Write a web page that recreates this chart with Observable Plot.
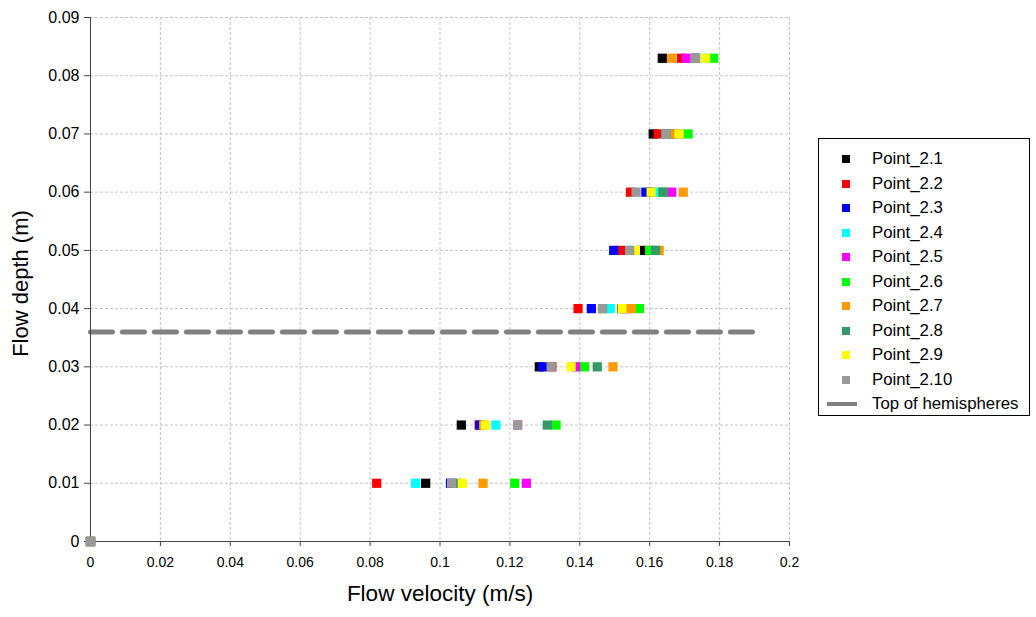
<!DOCTYPE html>
<html><head><meta charset="utf-8">
<script src="https://cdn.jsdelivr.net/npm/d3@7"></script>
<script src="https://cdn.jsdelivr.net/npm/@observablehq/plot@0.6"></script>
<style>
body{margin:0;background:#fff;font-family:"Liberation Sans",Arial,sans-serif;}
#wrap{position:relative;width:1036px;height:617px;overflow:hidden}
#legend{position:absolute;left:818px;top:138px;width:212px;height:278px;border:1px solid #000;box-sizing:border-box;background:#fff}
.row{position:absolute;left:0;height:24px;display:flex;align-items:center;font-size:16.8px;color:#000;white-space:nowrap}
.mk{position:absolute;top:8px;width:8px;height:8px}
.txt{position:absolute;left:53px;top:2px;line-height:20px}
</style></head><body><div id="wrap"></div>
<script>
// Flow depths (m) at which velocities were measured
const depths = [0, 0.01, 0.02, 0.03, 0.04, 0.05, 0.06, 0.07, 0.083];
const seriesNames = ["Point_2.1","Point_2.2","Point_2.3","Point_2.4","Point_2.5","Point_2.6","Point_2.7","Point_2.8","Point_2.9","Point_2.10"];
const seriesColors = ["#000000","#ff0000","#0000ff","#00ffff","#ff00ff","#00ff00","#ff9900","#339966","#ffff00","#999999"];
// Flow velocity (m/s) per series, one value per depth
const p21  = [0, 0.0959, 0.1061, 0.1284, 0.1520, 0.1576, 0.1604, 0.1610, 0.1636];
const p22  = [0, 0.0819, 0.1112, 0.1320, 0.1395, 0.1518, 0.1545, 0.1624, 0.1691];
const p23  = [0, 0.1030, 0.1114, 0.1294, 0.1433, 0.1497, 0.1589, 0.1664, 0.1731];
const p24  = [0, 0.0930, 0.1160, 0.1388, 0.1487, 0.1543, 0.1621, 0.1647, 0.1760];
const p25  = [0, 0.1247, 0.1222, 0.1390, 0.1535, 0.1600, 0.1663, 0.1684, 0.1704];
const p26  = [0, 0.1214, 0.1332, 0.1414, 0.1571, 0.1600, 0.1638, 0.1710, 0.1783];
const p27  = [0, 0.1123, 0.1125, 0.1495, 0.1547, 0.1627, 0.1696, 0.1670, 0.1663];
const p28  = [0, 0.1048, 0.1307, 0.1450, 0.1465, 0.1617, 0.1638, 0.1647, 0.1731];
const p29  = [0, 0.1064, 0.1130, 0.1375, 0.1521, 0.1559, 0.1604, 0.1684, 0.1760];
const p210 = [0, 0.1033, 0.1222, 0.1318, 0.1465, 0.1543, 0.1561, 0.1647, 0.1731];
const velocities = [p21, p22, p23, p24, p25, p26, p27, p28, p29, p210];
// Top of hemispheres reference line
const hemiName = "Top of hemispheres";
const hemiDepth = 0.036;
const hemiVelocityExtent = [0, 0.191];
// Axis ticks
const xTicks = [0, 0.02, 0.04, 0.06, 0.08, 0.1, 0.12, 0.14, 0.16, 0.18, 0.2];
const yTicks = [0, 0.01, 0.02, 0.03, 0.04, 0.05, 0.06, 0.07, 0.08, 0.09];
const xLabel = "Flow velocity (m/s)";
const yLabel = "Flow depth (m)";

const points = [];
seriesNames.forEach((name, s) => {
  depths.forEach((d, i) => points.push({series: name, v: velocities[s][i], d}));
});
const hemi = hemiVelocityExtent.map(v => ({v, d: hemiDepth}));
const fmt = t => String(+t.toFixed(2));

const chart = Plot.plot({
  width: 1036, height: 617,
  marginLeft: 90, marginRight: 247, marginTop: 17, marginBottom: 76,
  style: {fontFamily: '"Liberation Sans", Arial, sans-serif', background: "#fff"},
  x: {domain: [0, 0.2]},
  y: {domain: [0, 0.09]},
  color: {domain: seriesNames, range: seriesColors},
  marks: [
    Plot.gridX(xTicks, {stroke: "#c4c4c4", strokeOpacity: 1, strokeDasharray: "3,2"}),
    Plot.gridY(yTicks, {stroke: "#c4c4c4", strokeOpacity: 1, strokeDasharray: "3,2"}),
    Plot.line(hemi, {x: "v", y: "d", stroke: "#808080", strokeWidth: 5, strokeDasharray: "22,10"}),
    Plot.ruleX([0], {stroke: "#444"}),
    Plot.ruleY([0], {stroke: "#444"}),
    Plot.axisX(xTicks, {tickSize: 5, tickPadding: 11, fontSize: 14, tickFormat: fmt, label: null, stroke: "#444", fill: "#000"}),
    Plot.axisY(yTicks, {tickSize: 6, tickPadding: 5, fontSize: 16, tickFormat: fmt, label: null, stroke: "#444", fill: "#000"}),
    Plot.dot(points, {x: "v", y: "d", fill: "series", symbol: "square", r: 5.2}),
    Plot.text([xLabel], {frameAnchor: "bottom", dy: 59, fontSize: 22.5, fill: "#000"}),
    Plot.text([yLabel], {frameAnchor: "left", textAnchor: "middle", dx: -70, dy: 4, rotate: -90, fontSize: 22, fill: "#000"})
  ]
});
const wrap = document.getElementById("wrap");
wrap.appendChild(chart);

const legend = document.createElement("div");
legend.id = "legend";
seriesNames.forEach((name, i) => {
  const row = document.createElement("div");
  row.className = "row";
  row.style.top = (8 + i * 24.5) + "px";
  row.innerHTML = `<div class="mk" style="left:23px;background:${seriesColors[i]}"></div><div class="txt">${name}</div>`;
  legend.appendChild(row);
});
const hrow = document.createElement("div");
hrow.className = "row";
hrow.style.top = (8 + 10 * 24.5) + "px";
hrow.innerHTML = `<div style="position:absolute;left:8px;top:10px;width:30px;height:4px;background:#808080"></div><div class="txt">${hemiName}</div>`;
legend.appendChild(hrow);
wrap.appendChild(legend);
</script>
</body></html>
